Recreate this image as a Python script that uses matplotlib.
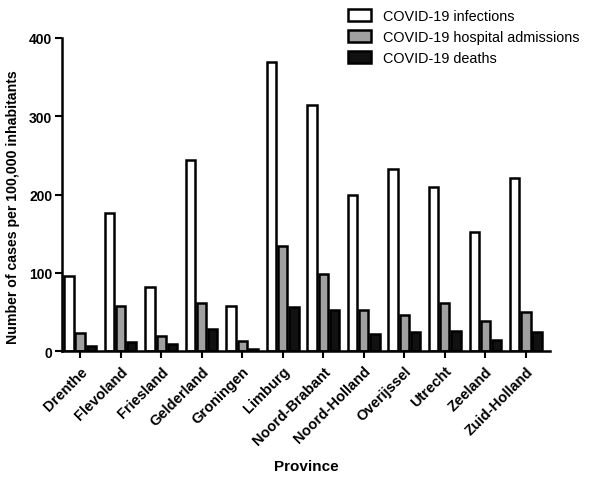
import matplotlib.pyplot as plt
import numpy as np

plt.rcParams['font.family'] = ['Liberation Sans', 'DejaVu Sans']

provinces = ['Drenthe', 'Flevoland', 'Friesland', 'Gelderland', 'Groningen', 'Limburg',
             'Noord-Brabant', 'Noord-Holland', 'Overijssel', 'Utrecht', 'Zeeland', 'Zuid-Holland']
infections = [96, 176, 82, 244, 57, 369, 314, 200, 233, 209, 152, 221]
admissions = [23, 58, 19, 62, 13, 134, 98, 53, 46, 61, 38, 50]
deaths = [6, 12, 9, 28, 3, 56, 53, 22, 24, 26, 14, 24]

fig = plt.figure(figsize=(5.95, 4.81), dpi=100)
ax = fig.add_axes([0.104, 0.268, 0.82, 0.651])

x = np.arange(len(provinces))
w = 0.23
step = 0.275
ax.bar(x - step, infections, w, color='white', edgecolor='black', linewidth=1.8,
       label='COVID-19 infections')
ax.bar(x, admissions, w, color='#a0a0a0', edgecolor='black', linewidth=1.8,
       label='COVID-19 hospital admissions')
ax.bar(x + step, deaths, w, color='#111111', edgecolor='black', linewidth=1.8,
       label='COVID-19 deaths')

ax.set_xlim(-0.45, 11.59)
ax.set_ylim(0, 400)
ax.set_yticks([0, 100, 200, 300, 400])
ax.set_xticks(x)
ax.set_xticklabels(provinces, rotation=45, ha='right', rotation_mode='anchor',
                   fontweight='bold', fontsize=10.5)
for lab in ax.get_yticklabels():
    lab.set_fontweight('bold')
    lab.set_fontsize(10)

ax.spines['top'].set_visible(False)
ax.spines['right'].set_visible(False)
ax.spines['left'].set_linewidth(1.8)
ax.spines['bottom'].set_linewidth(1.8)
ax.tick_params(axis='both', width=1.5, length=5, direction='out', pad=2)
ax.tick_params(axis='x', pad=4)

ax.set_ylabel('Number of cases per 100,000 inhabitants', fontweight='bold', fontsize=10.2)
ax.yaxis.set_label_coords(-0.085, 0.463)
ax.set_xlabel('Province', fontweight='bold', fontsize=11)
ax.xaxis.set_label_coords(0.5, -0.345)

ax.legend(loc='upper left', bbox_to_anchor=(0.56, 1.135), frameon=False, fontsize=10.4,
          handlelength=1.6, handleheight=0.9, labelspacing=0.5, handletextpad=0.8)

fig.savefig('out.png', dpi=100)
